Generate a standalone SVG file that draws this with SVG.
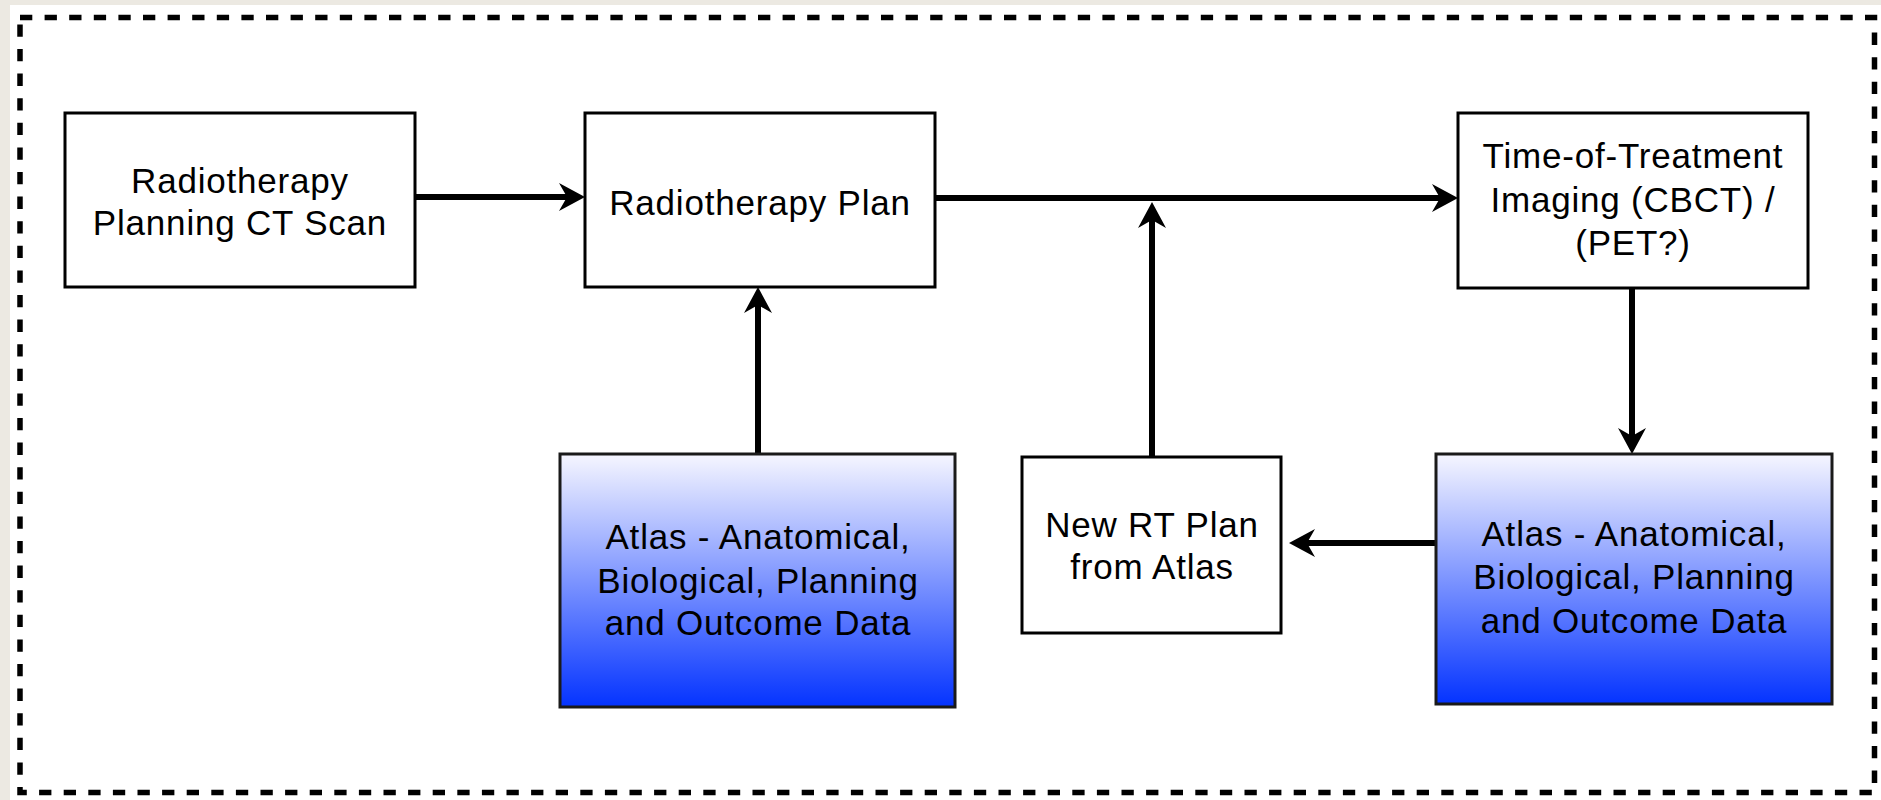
<svg xmlns="http://www.w3.org/2000/svg" width="1881" height="800" viewBox="0 0 1881 800">
  <defs>
    <linearGradient id="atlasFill" x1="0" y1="0" x2="0" y2="1">
      <stop offset="0" stop-color="#f6f6ff"/>
      <stop offset="1" stop-color="#0433ff"/>
    </linearGradient>
    <marker id="arrow" markerUnits="userSpaceOnUse" viewBox="0 0 26 28" markerWidth="26" markerHeight="28" refX="16" refY="14" orient="auto">
      <path d="M26,14 L0,0 L8,14 L0,28 Z" fill="#000"/>
    </marker>
  </defs>
  <style>
    .box { fill: #fff; stroke: #000; stroke-width: 3; }
    .atlas { fill: url(#atlasFill); stroke: #1a1a1a; stroke-width: 3; }
    .label { font-family: "Liberation Sans", Arial, sans-serif; font-size: 35px; letter-spacing: 0.8px; fill: #000; text-anchor: middle; }
    .link { fill: none; stroke: #000; stroke-width: 6; marker-end: url(#arrow); }
    .frame { fill: none; stroke: #000; stroke-width: 5.5; stroke-dasharray: 12.3 12.3; }
  </style>

  <!-- page background and white canvas -->
  <rect x="0" y="0" width="1881" height="800" fill="#ece9e2"/>
  <rect x="10" y="5" width="1871" height="795" fill="#fff"/>

  <!-- dashed outer frame -->
  <rect class="frame" x="20" y="17.5" width="1854.5" height="775"/>

  <g id="connectors">
    <path class="link" d="M415,197 H575"/>
    <path class="link" d="M935,198 H1448"/>
    <path class="link" d="M758,454 V297"/>
    <path class="link" d="M1152,457 V212"/>
    <path class="link" d="M1632,288 V444"/>
    <path class="link" d="M1436,543 H1299"/>
  </g>

  <g id="planning-ct">
    <rect class="box" x="65" y="113" width="350" height="174"/>
    <text class="label" x="240" y="193">Radiotherapy</text>
    <text class="label" x="240" y="235">Planning CT Scan</text>
  </g>

  <g id="rt-plan">
    <rect class="box" x="585" y="113" width="350" height="174"/>
    <text class="label" x="760" y="215">Radiotherapy Plan</text>
  </g>

  <g id="treatment-imaging">
    <rect class="box" x="1458" y="113" width="350" height="175"/>
    <text class="label" x="1633" y="168">Time-of-Treatment</text>
    <text class="label" x="1633" y="212">Imaging (CBCT) /</text>
    <text class="label" x="1633" y="255">(PET?)</text>
  </g>

  <g id="atlas-left">
    <rect class="atlas" x="560" y="454" width="395" height="253"/>
    <text class="label" x="758" y="549">Atlas - Anatomical,</text>
    <text class="label" x="758" y="593">Biological, Planning</text>
    <text class="label" x="758" y="635">and Outcome Data</text>
  </g>

  <g id="new-rt-plan">
    <rect class="box" x="1022" y="457" width="259" height="176"/>
    <text class="label" x="1152" y="537">New RT Plan</text>
    <text class="label" x="1152" y="579">from Atlas</text>
  </g>

  <g id="atlas-right">
    <rect class="atlas" x="1436" y="454" width="396" height="250"/>
    <text class="label" x="1634" y="546">Atlas - Anatomical,</text>
    <text class="label" x="1634" y="589">Biological, Planning</text>
    <text class="label" x="1634" y="633">and Outcome Data</text>
  </g>
</svg>
